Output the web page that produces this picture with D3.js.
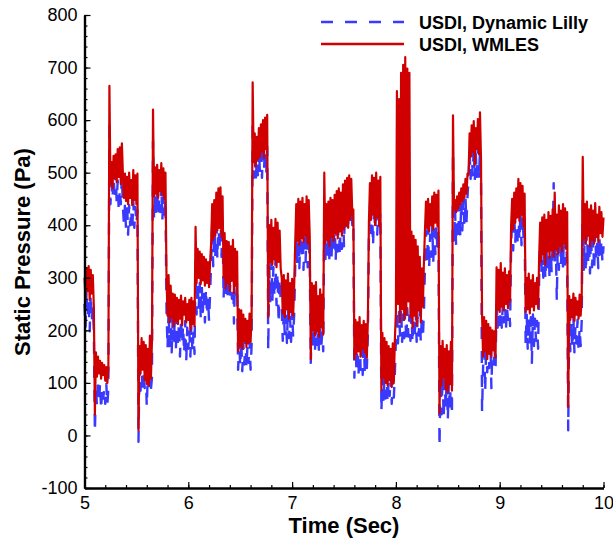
<!DOCTYPE html>
<html>
<head>
<meta charset="utf-8">
<script src="https://cdn.jsdelivr.net/npm/d3@7"></script>
<style>
  body { margin: 0; background: #fff; }
  svg { display: block; }
  text { font-family: "Liberation Sans", Arial, Helvetica, sans-serif; fill: #000; }
</style>
</head>
<body>
<svg id="chart" width="613" height="542"></svg>
<script>
// Static pressure samples, one every 0.01 s from t = 5.00 s to 10.00 s
const startTime = 5;
const timeStep = 0.01;

// USDI, WMLES (Pa)
const wmles = [
  300, 262, 318, 275, 322, 258, 315, 270, 305, 245,
  40, 158, 112, 150, 118, 142, 108, 138, 115, 134,
  104, 130, 100, 128, 665, 478, 520, 470, 532, 490,
  535, 482, 545, 492, 548, 478, 556, 498, 452, 498,
  446, 492, 440, 500, 452, 486, 438, 505, 448, 495,
  440, 498, 10, 170, 118, 185, 125, 178, 105, 172,
  98, 165, 95, 190, 108, 180, 620, 455, 510, 460,
  515, 452, 505, 465, 518, 458, 508, 450, 500, 300,
  228, 305, 215, 285, 225, 270, 208, 268, 218, 262,
  212, 258, 222, 266, 210, 255, 230, 262, 215, 250,
  220, 258, 200, 262, 212, 255, 208, 397, 290, 355,
  300, 350, 288, 345, 295, 340, 285, 335, 290, 330,
  282, 330, 365, 440, 372, 448, 380, 462, 390, 470,
  395, 472, 378, 455, 300, 385, 280, 370, 290, 368,
  275, 360, 295, 372, 270, 355, 285, 350, 160, 240,
  170, 238, 165, 230, 180, 222, 168, 218, 175, 232,
  178, 226, 672, 520, 575, 512, 568, 525, 585, 530,
  592, 540, 600, 528, 605, 545, 610, 225, 400, 330,
  410, 325, 395, 335, 412, 320, 405, 330, 390, 318,
  300, 232, 305, 225, 295, 240, 308, 222, 290, 235,
  298, 228, 285, 365, 440, 370, 450, 362, 445, 375,
  452, 368, 440, 380, 455, 365, 448, 378, 145, 290,
  200, 285, 190, 292, 198, 265, 188, 278, 205, 268,
  192, 500, 365, 440, 372, 445, 360, 452, 378, 448,
  370, 458, 385, 465, 375, 470, 388, 462, 380, 478,
  392, 485, 400, 490, 395, 495, 410, 488, 420, 430,
  145, 220, 155, 215, 160, 225, 150, 210, 165, 218,
  158, 212, 148, 220, 405, 480, 410, 495, 420, 490,
  400, 500, 415, 485, 398, 492, 86, 195, 110, 185,
  100, 178, 95, 170, 105, 165, 92, 175, 100, 182,
  235, 655, 250, 640, 215, 690, 240, 705, 220, 720,
  230, 698, 255, 690, 225, 388, 205, 380, 228, 372,
  210, 360, 238, 340, 215, 318, 245, 330, 390, 445,
  395, 450, 388, 440, 400, 455, 392, 462, 405, 458,
  398, 466, 42, 170, 95, 180, 110, 165, 88, 172,
  82, 160, 98, 178, 85, 609, 430, 448, 425, 455,
  432, 462, 440, 470, 445, 478, 452, 488, 460, 498,
  495, 575, 530, 590, 540, 598, 515, 585, 545, 602,
  535, 615, 525, 230, 150, 225, 160, 218, 145, 212,
  155, 205, 150, 200, 162, 198, 148, 320, 240, 315,
  235, 328, 245, 310, 238, 318, 250, 305, 242, 312,
  255, 400, 450, 392, 462, 405, 470, 415, 488, 408,
  480, 420, 475, 398, 460, 235, 300, 240, 308, 232,
  295, 245, 305, 238, 290, 250, 300, 242, 340, 405,
  330, 415, 345, 420, 325, 410, 350, 425, 338, 418,
  352, 430, 340, 462, 355, 420, 345, 438, 360, 428,
  350, 440, 365, 432, 355, 425, 54, 265, 220, 258,
  225, 270, 218, 262, 230, 255, 222, 268, 228, 260,
  530, 375, 440, 365, 445, 380, 430, 360, 438, 372,
  428, 365, 442, 378, 420, 368, 435, 385, 425, 378,
  415
];

// USDI, Dynamic Lilly (Pa)
const dynamicLilly = [
  250, 205, 278, 222, 262, 198, 270, 215, 245, 200,
  6, 95, 55, 108, 62, 100, 48, 92, 70, 88,
  60, 98, 58, 90, 600, 440, 480, 450, 492, 460,
  500, 445, 485, 425, 470, 440, 495, 435, 400, 440,
  392, 445, 382, 438, 400, 430, 388, 448, 395, 435,
  402, 428, -12, 130, 85, 142, 80, 125, 90, 120,
  54, 118, 82, 135, 88, 110, 560, 412, 462, 420,
  468, 415, 455, 425, 478, 410, 460, 418, 450, 240,
  165, 238, 170, 232, 158, 225, 175, 220, 160, 228,
  168, 215, 150, 222, 172, 210, 155, 218, 140, 205,
  165, 200, 150, 212, 158, 195, 155, 330, 230, 295,
  240, 290, 222, 285, 235, 275, 215, 280, 228, 262,
  218, 270, 330, 405, 322, 412, 340, 420, 335, 415,
  350, 422, 340, 410, 260, 330, 265, 325, 258, 318,
  268, 312, 260, 330, 213, 300, 265, 290, 125, 185,
  130, 182, 122, 175, 135, 188, 128, 170, 138, 180,
  125, 172, 600, 490, 530, 488, 525, 495, 545, 500,
  555, 490, 560, 505, 568, 495, 550, 162, 320, 250,
  330, 255, 320, 262, 338, 248, 310, 213, 300, 255,
  240, 180, 235, 190, 228, 176, 242, 185, 225, 178,
  238, 188, 230, 320, 395, 325, 400, 318, 390, 335,
  402, 315, 388, 330, 398, 320, 385, 328, 138, 210,
  160, 208, 158, 212, 170, 200, 155, 210, 165, 195,
  160, 420, 330, 395, 335, 400, 328, 410, 340, 405,
  345, 412, 332, 418, 350, 422, 340, 428, 355, 432,
  360, 438, 398, 445, 402, 448, 410, 440, 400, 410,
  110, 195, 120, 188, 112, 200, 125, 185, 115, 192,
  118, 180, 128, 190, 380, 440, 385, 435, 360, 442,
  390, 438, 382, 430, 395, 425, 45, 115, 65, 110,
  70, 118, 62, 105, 75, 112, 60, 108, 72, 119,
  180, 240, 175, 235, 190, 244, 178, 230, 185, 238,
  176, 242, 188, 228, 180, 232, 175, 226, 182, 240,
  178, 225, 190, 238, 176, 230, 185, 236, 320, 390,
  325, 395, 318, 382, 340, 398, 330, 392, 345, 400,
  350, 395, -22, 110, 40, 118, 32, 105, 50, 115,
  29, 100, 45, 112, 38, 540, 365, 430, 360, 438,
  372, 440, 380, 445, 390, 450, 395, 453, 405, 455,
  490, 540, 488, 545, 495, 549, 486, 535, 492, 548,
  490, 542, 488, 45, 130, 185, 82, 178, 120, 170,
  128, 182, 90, 175, 135, 168, 125, 260, 205, 255,
  210, 262, 205, 250, 215, 268, 200, 245, 220, 258,
  208, 360, 415, 352, 420, 365, 425, 358, 430, 370,
  428, 362, 418, 375, 412, 170, 232, 165, 228, 175,
  225, 138, 230, 170, 222, 180, 218, 165, 300, 360,
  305, 362, 300, 370, 296, 355, 312, 368, 300, 372,
  310, 365, 480, 320, 375, 257, 372, 315, 378, 322,
  380, 318, 385, 325, 376, 320, 10, 220, 160, 215,
  165, 225, 158, 210, 175, 220, 160, 205, 170, 218,
  450, 315, 385, 310, 390, 325, 370, 308, 382, 320,
  375, 312, 388, 330, 365, 318, 380, 335, 372, 328,
  360
];

const xTickValues = [5, 6, 7, 8, 9, 10];
const yTickValues = [-100, 0, 100, 200, 300, 400, 500, 600, 700, 800];
const seriesLabels = ["USDI, Dynamic Lilly", "USDI, WMLES"];
const seriesColors = ["#3a3aff", "#d00000"];
const xTitle = "Time (Sec)";
const yTitle = "Static Pressure (Pa)";

const svg = d3.select("#chart");
const x = d3.scaleLinear().domain([5, 10]).range([84.5, 603.5]);
const y = d3.scaleLinear().domain([-100, 800]).range([488, 15]);

const line = d3.line()
  .x((d, i) => x(startTime + i * timeStep))
  .y(d => y(d));

// Dynamic Lilly underneath, dashed
svg.append("path")
  .datum(dynamicLilly)
  .attr("d", line)
  .attr("fill", "none")
  .attr("stroke", seriesColors[0])
  .attr("stroke-width", 2.4)
  .attr("stroke-linejoin", "round")
  .attr("stroke-dasharray", "12,12");

// WMLES on top, solid
svg.append("path")
  .datum(wmles)
  .attr("d", line)
  .attr("fill", "none")
  .attr("stroke", seriesColors[1])
  .attr("stroke-width", 2.2)
  .attr("stroke-linejoin", "round");

// Axes: ticks point into the plot
function styleAxis(g) {
  g.select(".domain").attr("stroke", "#000").attr("stroke-width", 2.2);
  g.selectAll(".tick line").attr("stroke", "#000").attr("stroke-width", 1.2);
  g.selectAll("text").attr("font-size", 18).attr("font-family", "Liberation Sans, Arial, sans-serif");
}

const minorX = d3.range(5, 10.0001, 0.2);
const minorY = d3.range(-100, 800.0001, 20);
const plainNumber = d => String(d);

svg.append("g")
  .attr("transform", "translate(0,488)")
  .call(d3.axisBottom(x).tickValues(minorX).tickSize(-3).tickSizeOuter(0).tickFormat(""))
  .call(styleAxis);
svg.append("g")
  .attr("transform", "translate(84.5,0)")
  .call(d3.axisLeft(y).tickValues(minorY).tickSize(-3).tickSizeOuter(0).tickFormat(""))
  .call(styleAxis);

svg.append("g")
  .attr("transform", "translate(0,488)")
  .call(d3.axisBottom(x).tickValues(xTickValues).tickSize(-6).tickSizeOuter(0).tickPadding(8).tickFormat(plainNumber))
  .call(styleAxis);
svg.append("g")
  .attr("transform", "translate(84.5,0)")
  .call(d3.axisLeft(y).tickValues(yTickValues).tickSize(-6).tickSizeOuter(0).tickPadding(7).tickFormat(plainNumber))
  .call(styleAxis);

// Axis titles
svg.append("text")
  .attr("x", 344).attr("y", 533)
  .attr("text-anchor", "middle")
  .attr("font-size", 22).attr("font-weight", "bold")
  .text(xTitle);
svg.append("text")
  .attr("transform", "translate(30,252) rotate(-90)")
  .attr("text-anchor", "middle")
  .attr("font-size", 22).attr("font-weight", "bold")
  .text(yTitle);

// Legend
const legend = svg.append("g");
seriesLabels.forEach((label, i) => {
  const ly = 22 + i * 22;
  legend.append("line")
    .attr("x1", 321).attr("x2", 404).attr("y1", ly).attr("y2", ly)
    .attr("stroke", seriesColors[i]).attr("stroke-width", 2.6)
    .attr("stroke-dasharray", i === 0 ? "12,12" : null);
  legend.append("text")
    .attr("x", 419).attr("y", ly + 6.5)
    .attr("font-size", 18).attr("font-weight", "bold")
    .text(label);
});
</script>
</body>
</html>
